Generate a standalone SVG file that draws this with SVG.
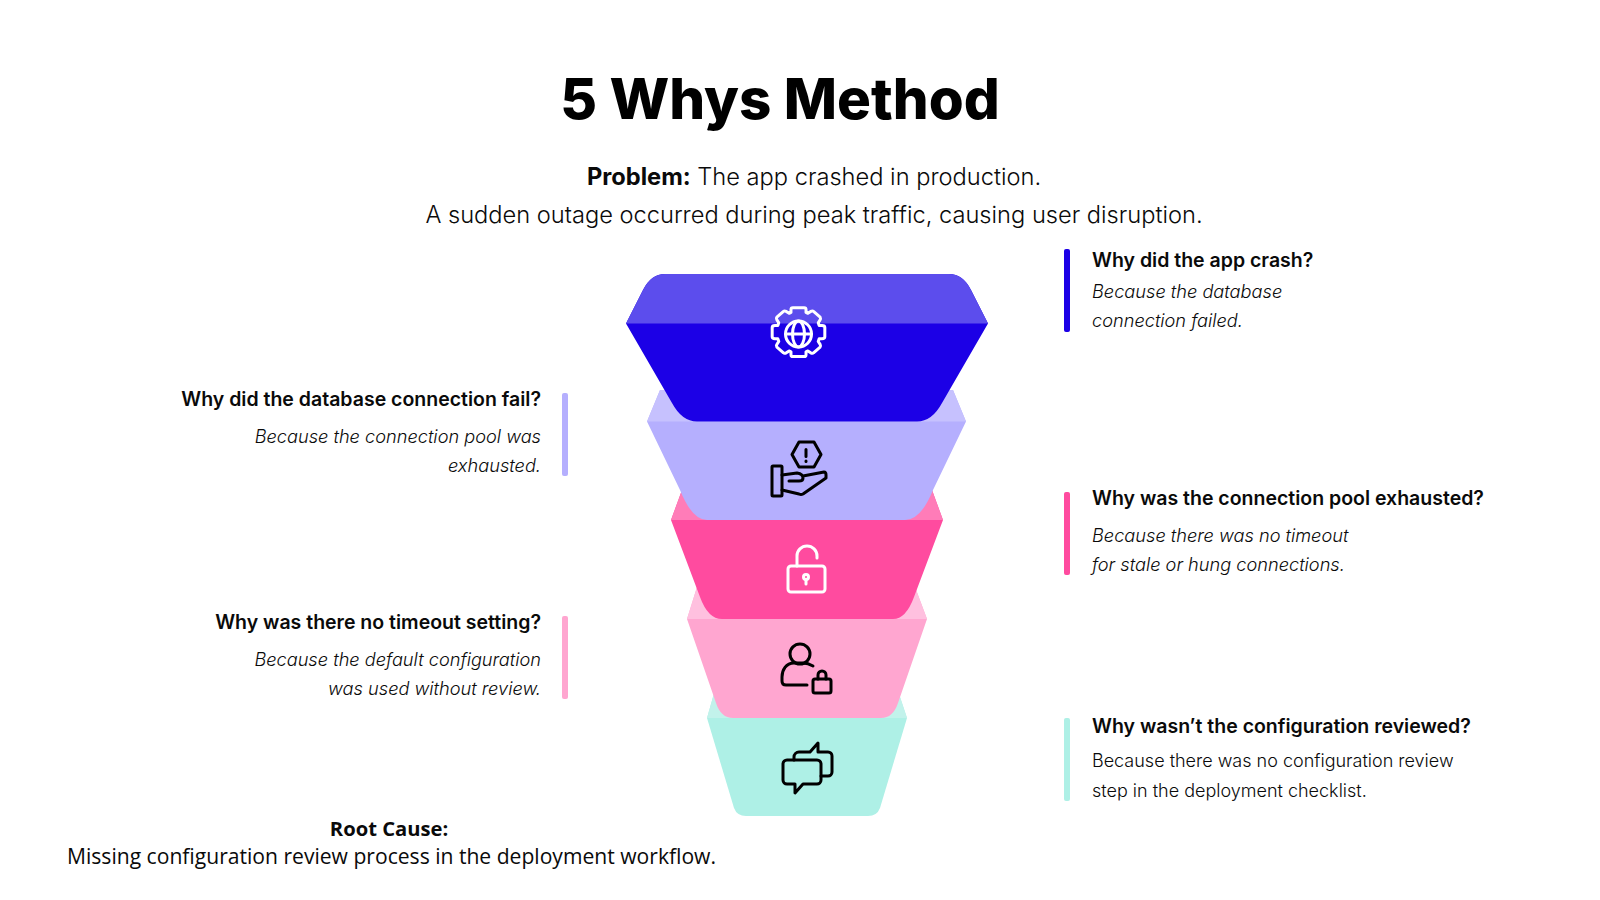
<svg xmlns="http://www.w3.org/2000/svg" width="1600" height="900" viewBox="0 0 1600 900">
<style>
text{font-family:"Inter","Liberation Sans",sans-serif;fill:#0a0a0a}
.t{font-size:56.500px;font-weight:800;text-anchor:middle;fill:#000}
.p{font-size:23.650px;font-weight:300;text-anchor:middle}
.h{font-size:19.500px;font-weight:600}
.b{font-size:18.200px;font-weight:300;font-style:italic}
.n{font-size:18px;font-weight:300}
.e{text-anchor:end}
.r{font-family:"Open Sans","Noto Sans",sans-serif;font-size:21.100px}
.rh{font-family:"Open Sans","Noto Sans",sans-serif;font-size:20.200px;font-weight:700;text-anchor:middle}
.ik{fill:none;stroke:#000;stroke-width:3;stroke-linejoin:round;stroke-linecap:round}
.iw{fill:none;stroke:#fff;stroke-width:3;stroke-linejoin:round;stroke-linecap:round}
</style>
<rect width="1600" height="900" fill="#fff"/>
<g id="title"><text class="t" x="780" y="119">5 Whys Method</text></g>
<g id="problem">
<text class="p" x="814" y="185"><tspan font-weight="700">Problem:</tspan> The app crashed in production.</text>
<text class="p" x="814" y="222.500">A sudden outage occurred during peak traffic, causing user disruption.</text>
</g>
<g id="layer5">
<path d="M707 718L713 697L717 685H896L900 697L907 718L880 808Q877 816 868 816H746Q737 816 734 808Z" fill="#aef0e6"/>
<path d="M707 718L713 697L717 685H896L900 697L907 718Z" fill="#c2f2eb"/>
<g class="ik"><path d="M787 760h30a4 4 0 0 1 4 4v16a4 4 0 0 1-4 4h-14l-8 9v-9h-8a4 4 0 0 1-4-4v-16a4 4 0 0 1 4-4z"/><path d="M794 760v-3a5 5 0 0 1 5-5h11l8-9v9h10a4 4 0 0 1 4 4v16a4 4 0 0 1-4 4h-7"/></g>
</g>
<g id="layer4">
<path d="M687 619L697 587H915L927 619L898 703Q893 718 881 718H733Q721 718 716 703Z" fill="#ffa6d0"/>
<path d="M687 619L697 587H915L927 619Z" fill="#ffc0df"/>
<g class="ik"><circle cx="800" cy="654" r="10"/><path d="M813 666q-5-3-10-3h-9c-8 0-12 7-12 14v4q0 4 4 4h21"/><rect x="813" y="679" width="18" height="14" rx="2"/><path d="M818 679v-4a4 4 0 0 1 8 0v4"/></g>
</g>
<g id="layer3">
<path d="M671 520L682 490H932L943 520L914 597Q906 619 893 619H722Q708 619 700 597Z" fill="#ff4b9f"/>
<path d="M671 520L682 490H932L943 520Z" fill="#ff7cb8"/>
<g class="iw"><rect x="788" y="566" width="37" height="26" rx="3"/><path d="M797 566v-10a10 10 0 0 1 20 0v2"/><circle cx="806" cy="577" r="2.500"/><path d="M806 580v4"/></g>
</g>
<g id="layer2">
<path d="M647 421.500L660 390H953L966 421.500L933 490Q921 520 905 520H707Q692 520 680 490Z" fill="#b5affe"/>
<path d="M647 421.500L660 390H953L966 421.500Z" fill="#c6c1fe"/>
<g class="ik"><path d="M792 454.500L799 442H814L821 454.500L814 467H799Z"/><path d="M806 449.500v7M806 461v.5"/><rect x="772" y="466" width="10" height="30" rx="1"/><path d="M782 475L797 473Q803 474 803 478Q803 481 799 481H789M803 476L824 472Q826 472 826 475V478L803 494Q801 495 799 494L782 490"/></g>
</g>
<g id="layer1">
<path d="M626 323.500L643 290Q651 274 665 274H949Q963 274 971 290L988 323.500L942 403Q932 421.500 917 421.500H697Q682 421.500 672 403Z" fill="#1c00e6"/>
<path d="M626 323.500L643 290Q651 274 665 274H949Q963 274 971 290L988 323.500Z" fill="#5c4ded"/>
<g class="iw"><circle cx="798.500" cy="334" r="13"/><ellipse cx="798.500" cy="334" rx="6" ry="13"/><path d="M785.500 334h26"/><path transform="translate(798.500 334) scale(.94) translate(-798 -334)" stroke-width="3.200" d="M790 311v-3q0-2 2-2h12q2 0 2 2v3l2 1 3-2q2-1 3 0l7 6q1 2 0 3l-2 3 1 3h3q3 0 3 2v10q0 2-3 2h-3l-1 3 2 3q1 2 0 3l-7 6q-1 1-3 0l-3-2-2 1v3q0 2-2 2h-12q-2 0-2-2v-3l-2-1-3 2q-2 1-3 0l-7-6q-1-2 0-3l2-3-1-3h-3q-3 0-3-2v-10q0-2 3-2h3l1-3-2-3q-1-2 0-3l7-6q1-1 3 0l3 2z"/></g>
</g>
<g id="connectors">
<rect x="1064" y="249" width="6" height="83" rx="2" fill="#1c00e6"/>
<rect x="562" y="393" width="6" height="83" rx="2" fill="#b5affe"/>
<rect x="1064" y="492" width="6" height="83" rx="2" fill="#ff4b9f"/>
<rect x="562" y="616" width="6" height="83" rx="2" fill="#ffa6d0"/>
<rect x="1064" y="718" width="6" height="83" rx="2" fill="#aef0e6"/>
</g>
<g id="why1"><text class="h" x="1092" y="267">Why did the app crash?</text><text class="b" x="1092" y="297.500">Because the database</text><text class="b" x="1092" y="326.500">connection failed.</text></g>
<g id="why2"><text class="h e" x="541" y="406">Why did the database connection fail?</text><text class="b e" x="541" y="442.500">Because the connection pool was</text><text class="b e" x="541" y="471.500">exhausted.</text></g>
<g id="why3"><text class="h" x="1092" y="505">Why was the connection pool exhausted?</text><text class="b" x="1092" y="542">Because there was no timeout</text><text class="b" x="1092" y="571">for stale or hung connections.</text></g>
<g id="why4"><text class="h e" x="541" y="629">Why was there no timeout setting?</text><text class="b e" x="541" y="666">Because the default configuration</text><text class="b e" x="541" y="695">was used without review.</text></g>
<g id="why5"><text class="h" x="1092" y="733">Why wasn’t the configuration reviewed?</text><text class="n" x="1092" y="767">Because there was no configuration review</text><text class="n" x="1092" y="796.500">step in the deployment checklist.</text></g>
<g id="root"><text class="rh" x="389" y="836">Root Cause:</text><text class="r" x="67" y="864">Missing configuration review process in the deployment workflow.</text></g>
</svg>
